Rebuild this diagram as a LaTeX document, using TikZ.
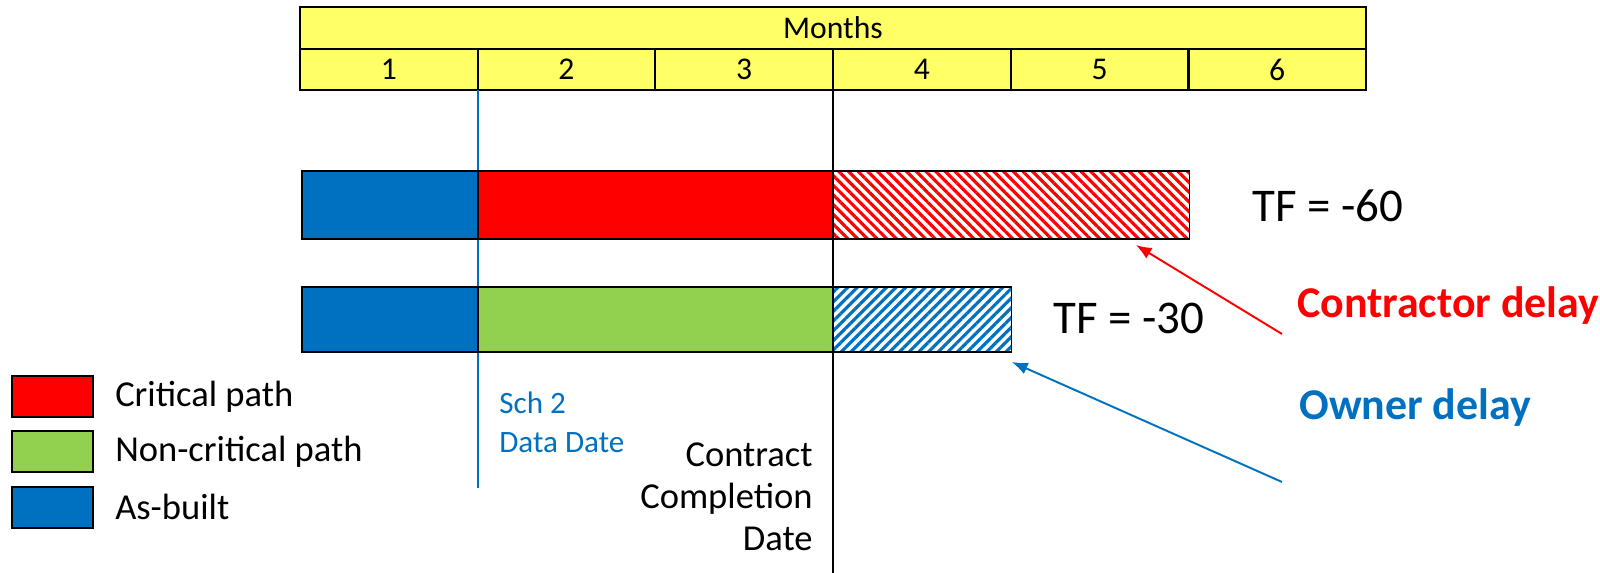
\documentclass[tikz,border=0pt]{standalone}
\usepackage{fontspec}
\setmainfont{Carlito}
\usepackage{tikz}
\usetikzlibrary{positioning,arrows.meta,patterns.meta}
\usepackage{xcolor}
\definecolor{critred}{HTML}{FF0000}
\definecolor{noncrit}{HTML}{92D050}
\definecolor{asbuilt}{HTML}{0070C0}
\definecolor{hdryellow}{HTML}{FFFF66}
\tikzstyle{hdr} = [draw, line width=1.3pt, fill=hdryellow]
\tikzstyle{hdrtext} = [inner sep=0pt, font=\fontsize{18}{20}\selectfont]
\tikzstyle{bar} = [rectangle, draw, line width=0.7pt, inner sep=0pt, outer sep=0pt, minimum height=1.36cm]
\tikzstyle{bartwo} = [bar, minimum height=1.3cm]
\tikzstyle{key} = [rectangle, draw, line width=1.1pt, inner sep=0pt, minimum width=1.62cm, minimum height=0.82cm]
\tikzstyle{keytext} = [anchor=west, inner sep=0pt, font=\fontsize{20.8}{24}\selectfont]
\tikzstyle{tf} = [anchor=west, inner sep=0pt, font=\fontsize{26.7}{30}\selectfont]
\tikzstyle{who} = [anchor=west, inner sep=0pt, font=\fontsize{25}{28}\selectfont\bfseries]
\tikzstyle{line} = [draw, line width=1.1pt, -{Latex[length=9pt,width=7pt]}]

\begin{document}
\begin{tikzpicture}[x=0.02cm, y=-0.02cm]
  \useasboundingbox (0,0) rectangle (1600,573);
  %% month header
  \draw[hdr] (300,7) rectangle (1366,49);
  \node[hdrtext] (months) at (833,28) {Months};
  \foreach \m in {1,...,6}{
    \draw[hdr] ({300+(\m-1)*177.67},49) rectangle ({300+\m*177.67},90);
    \node[hdrtext] (m\m) at ({300+(\m-0.5)*177.67},69.5) {\m};
  }
  %% data date and completion date
  \coordinate (ddtop) at (478,90);
  \coordinate (ddend) at (478,488);
  \coordinate (cctop) at (833,90);
  \coordinate (ccend) at (833,573);
  \draw[asbuilt, line width=1.1pt] (ddtop) -- (ddend);
  \draw[line width=1.1pt] (cctop) -- (ccend);
  %% first bar
  \node[bar, anchor=north west, fill=asbuilt, minimum width=3.52cm] (b1a) at (302,171) {};
  \node[bar, right=0pt of b1a, fill=critred, minimum width=7.1cm] (b1b) {};
  \node[bar, right=0pt of b1b, minimum width=7.14cm,
        pattern={Lines[angle=-45, distance=3.9pt, line width=1.8pt]}, pattern color=critred] (b1c) {};
  %% second bar
  \node[bartwo, anchor=north west, fill=asbuilt, minimum width=3.52cm] (b2a) at (302,287) {};
  \node[bartwo, right=0pt of b2a, fill=noncrit, minimum width=7.1cm] (b2b) {};
  \node[bartwo, right=0pt of b2b, minimum width=3.58cm,
        pattern={Lines[angle=45, distance=3.9pt, line width=1.8pt]}, pattern color=asbuilt] (b2c) {};
  %% total float
  \node[tf] (tf60) at (1252,206) {TF = -60};
  \node[tf] (tf30) at (1053,318) {TF = -30};
  %% delays
  \node[who, text=critred] (cdelay) at (1297,306) {Contractor delay};
  \node[who, text=asbuilt] (odelay) at (1299,408) {Owner delay};
  \coordinate (cdtail) at (1282,334);
  \coordinate (odtail) at (1282,482);
  \path[line, critred] (cdtail) -- ([xshift=-1.08cm, yshift=-0.12cm]b1c.south east);
  \path[line, asbuilt] (odtail) -- ([yshift=-0.2cm]b2c.south east);
  %% date labels
  \node[anchor=west, inner sep=0pt, text=asbuilt, align=left,
        font=\fontsize{17.7}{22}\selectfont] (ddlabel) at (499,422) {Sch 2\\Data Date};
  \node[anchor=east, inner sep=0pt, align=right,
        font=\fontsize{20.8}{24}\selectfont] (cclabel) at (813,497) {Contract\\Completion\\Date};
  %% legend
  \node[key, anchor=north west, fill=critred] (kcrit) at (11,375) {};
  \node[key, below=0.25cm of kcrit, fill=noncrit] (knon) {};
  \node[key, below=0.25cm of knon, fill=asbuilt] (kasb) {};
  \node[keytext] (tcrit) at ([xshift=0.42cm]kcrit.east) {Critical path};
  \node[keytext] (tnon) at ([xshift=0.42cm]knon.east) {Non-critical path};
  \node[keytext] (tasb) at ([xshift=0.42cm]kasb.east) {As-built};
\end{tikzpicture}
\end{document}
